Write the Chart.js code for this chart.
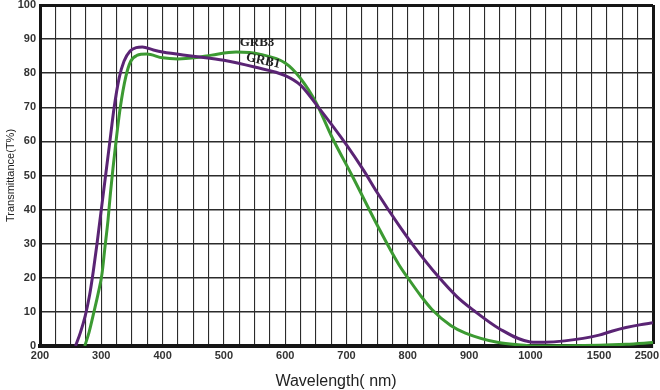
<!DOCTYPE html>
<html>
<head>
<meta charset="utf-8">
<script src="https://cdn.jsdelivr.net/npm/chart.js@4/dist/chart.umd.min.js"></script>
<style>
html,body{margin:0;padding:0;background:#fff;}
#wrap{width:660px;height:390px;position:relative;}
</style>
</head>
<body>
<div id="wrap"><canvas id="c" width="660" height="390"></canvas></div>
<script>
// ---- data ----
const xTickLabels = ['200','300','400','500','600','700','800','900','1000','1500','2500'];
const xTickWavelengths = [200,300,400,500,600,700,800,900,1000,1500,2500];
const yTicks = [0,10,20,30,40,50,60,70,80,90,100];

const grb1Wavelength = [258,266,274,281,287,293,300,307,314,321,329,337,347,357,367,385,400,450,500,550,600,625,652,700,728,750,785,811,849,880,907,950,1000,1100,1250,1500,1750,2000,2250,2500];
const grb1T = [0,4,9,15,22,30,40,50,60,70,78.5,83.5,86.5,87.5,87.7,86.8,86.2,85,83.8,81.8,79.3,76.5,70.5,59,51.5,45,35.5,29,20.5,14.5,10.5,5,1.2,1.1,1.5,3.2,4.4,5.4,6.2,6.8];

const grb3Wavelength = [273,280,288,295,301,306,311,315,319,324,331,340,348,358,374,400,425,452,480,520,560,600,625,650,677,709,750,785,802,820,839,870,894,948,990,1000,1500,2000,2500];
const grb3T = [0,4,10,15.5,21,29,37,45,52,60,70,79,83.5,85.2,85.6,84.5,84.2,84.5,85.3,86.2,85.5,83,78.5,71.5,61,50,35.5,24,19.5,15,10.8,6,3.8,1,0.2,0,0.2,0.5,1];

// ---- axis transform: 200..1000 linear (100 nm per unit), then compressed 1000..2500 ----
function pos(l){
  if (l <= 1000) return (l - 200) / 100;
  if (l <= 1500) return 8 + (l - 1000) / 500 * 1.12;
  return 9.12 + (l - 1500) / 1000 * 0.88;
}
// label positions (last label nudged inward so it stays inside the canvas)
const labelPos = xTickWavelengths.map((w,i)=> i===xTickWavelengths.length-1 ? pos(w)-0.1 : pos(w));

function toPts(xs, ys){ return xs.map((x,i)=>({x:pos(x), y:ys[i]})); }

const FONT = '"Liberation Sans", Arial, sans-serif';

const labelPlugin = {
  id:'curveLabels',
  afterDatasetsDraw(chart){
    const {ctx, scales:{x,y}, chartArea} = chart;
    ctx.save();
    ctx.fillStyle = '#222';
    ctx.font = 'bold 13px "Liberation Serif", serif';
    ctx.textAlign = 'center';
    ctx.textBaseline = 'middle';
    ctx.fillText('GRB3', x.getPixelForValue(pos(554)), y.getPixelForValue(88.9));
    ctx.save();
    ctx.translate(x.getPixelForValue(pos(564)), y.getPixelForValue(83.6));
    ctx.rotate(12*Math.PI/180);
    ctx.fillText('GRB1', 0, 0);
    ctx.restore();
    // x axis title
    ctx.fillStyle = '#222';
    ctx.font = '16px ' + FONT;
    ctx.fillText('Wavelength( nm)', x.getPixelForValue(pos(683)), chartArea.bottom + 36);
    ctx.restore();
  }
};

const gridCol = '#2b2b2b';
const edgeCol = '#151515';

function noPad(axis){ axis.paddingLeft=0; axis.paddingRight=0; axis.paddingTop=0; axis.paddingBottom=0; }

new Chart(document.getElementById('c'), {
  type:'line',
  data:{
    datasets:[
      {label:'GRB1', data:toPts(grb1Wavelength, grb1T), borderColor:'#5a2474', borderWidth:3, pointRadius:0, cubicInterpolationMode:'monotone', fill:false},
      {label:'GRB3', data:toPts(grb3Wavelength, grb3T), borderColor:'#3c9a32', borderWidth:3, pointRadius:0, cubicInterpolationMode:'monotone', fill:false}
    ]
  },
  options:{
    responsive:false,
    animation:false,
    layout:{padding:{top:5,right:7,left:0,bottom:0}},
    plugins:{legend:{display:false}, tooltip:{enabled:false}},
    scales:{
      x:{
        type:'linear', min:0, max:10,
        afterBuildTicks(axis){
          const t=[];
          for(let i=0;i<=40;i++) t.push({value:i/4});
          t.push({value:labelPos[9]});
          t.push({value:labelPos[10]});
          t.sort((a,b)=>a.value-b.value);
          axis.ticks=t;
        },
        afterFit(axis){ axis.height = 44; noPad(axis); },
        ticks:{
          autoSkip:false, maxRotation:0, minRotation:0, padding:3,
          color:'#333', font:{family:FONT, size:11, weight:'bold'},
          callback(v){
            const i = labelPos.findIndex(p=>Math.abs(p-v)<1e-6);
            return i>=0 ? xTickLabels[i] : '';
          }
        },
        grid:{
          drawTicks:false,
          color(c){
            const v=c.tick.value;
            if (Math.abs(v-labelPos[9])<1e-6 || Math.abs(v-labelPos[10])<1e-6) return 'rgba(0,0,0,0)';
            return v>=10 ? edgeCol : gridCol;
          },
          lineWidth(c){ return c.tick.value>=10 ? 3 : 1.1; }
        },
        border:{color:edgeCol, width:4},
        title:{display:false}
      },
      y:{
        type:'linear', min:0, max:100,
        afterBuildTicks(axis){ axis.ticks = yTicks.map(v=>({value:v})); },
        afterFit(axis){ axis.width = 40; noPad(axis); },
        ticks:{padding:4, color:'#333', font:{family:FONT, size:11, weight:'bold'}},
        grid:{
          drawTicks:false,
          color(c){ return c.tick.value>=100 ? edgeCol : gridCol; },
          lineWidth(c){ return c.tick.value>=100 ? 3 : 1.4; }
        },
        border:{color:edgeCol, width:3},
        title:{display:true, text:'Transmittance(T%)', color:'#222', font:{family:FONT, size:11}, padding:{bottom:0}}
      }
    }
  },
  plugins:[labelPlugin]
});
</script>
</body>
</html>
